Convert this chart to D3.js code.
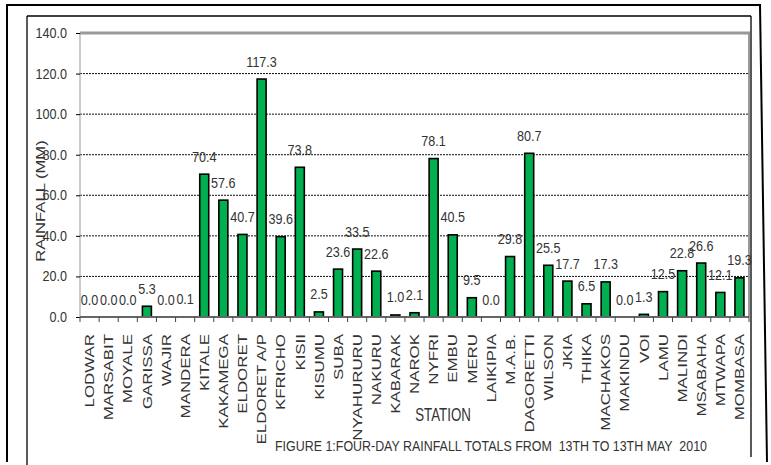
<!DOCTYPE html>
<html>
<head>
<meta charset="utf-8">
<script src="https://cdn.jsdelivr.net/npm/d3@7"></script>
<style>
  html, body { margin: 0; padding: 0; background: #fff; }
  svg { display: block; }
  text { font-family: "Liberation Sans", Arial, sans-serif; fill: #333; }
</style>
</head>
<body>
<svg id="chart" width="771" height="465"></svg>
<script>
const stations = ["LODWAR","MARSABIT","MOYALE","GARISSA","WAJIR","MANDERA","KITALE","KAKAMEGA","ELDORET","ELDORET A/P","KFRICHO","KISII","KISUMU","SUBA","NYAHURURU","NAKURU","KABARAK","NAROK","NYFRI","EMBU","MERU","LAIKIPIA","M.A.B.","DAGORETTI","WILSON","JKIA","THIKA","MACHAKOS","MAKINDU","VOI","LAMU","MALINDI","MSABAHA","MTWAPA","MOMBASA"];
const rainfall = [0.0,0.0,0.0,5.3,0.0,0.1,70.4,57.6,40.7,117.3,39.6,73.8,2.5,23.6,33.5,22.6,1.0,2.1,78.1,40.5,9.5,0.0,29.8,80.7,25.5,17.7,6.5,17.3,0.0,1.3,12.5,22.8,26.6,12.1,19.3];
const yTicks = [0,20,40,60,80,100,120,140];
const yTitle = "RAINFALL (MM)";
const xTitle = "STATION";
const figTitle = "FIGURE 1:FOUR-DAY RAINFALL TOTALS FROM  13TH TO 13TH MAY  2010";

const svg = d3.select("#chart");
const L = 80, R = 749, T = 33, B = 317;

// frames
svg.append("line").attr("x1",7).attr("y1",5).attr("x2",7).attr("y2",462).attr("stroke","#000").attr("stroke-width",2);
svg.append("line").attr("x1",6).attr("y1",5).attr("x2",761).attr("y2",5).attr("stroke","#000").attr("stroke-width",2);
svg.append("line").attr("x1",760).attr("y1",5).attr("x2",767).attr("y2",462).attr("stroke","#000").attr("stroke-width",2);
svg.append("line").attr("x1",27).attr("y1",16).attr("x2",27).attr("y2",465).attr("stroke","#000").attr("stroke-width",1.3);
svg.append("line").attr("x1",27).attr("y1",16).attr("x2",751).attr("y2",16).attr("stroke","#000").attr("stroke-width",1.3);
svg.append("line").attr("x1",751).attr("y1",16).attr("x2",751).attr("y2",457).attr("stroke","#000").attr("stroke-width",1.3);

const x = d3.scaleBand().domain(stations).range([L, R]).padding(0);
const y = d3.scaleLinear().domain([0, 140]).range([B, T]);
const bw = x.bandwidth() * 0.47;

// gridlines
svg.append("g").selectAll("line").data(yTicks.filter(v => v > 0 && v < 140)).join("line")
  .attr("x1", L).attr("x2", R).attr("y1", d => y(d)).attr("y2", d => y(d))
  .attr("stroke", "#111").attr("stroke-width", 1).attr("stroke-dasharray", "2,1");

// plot border: left, top, right
svg.append("line").attr("x1", L).attr("x2", L).attr("y1", T).attr("y2", B).attr("stroke", "#999").attr("stroke-width", 1);
svg.append("line").attr("x1", R).attr("x2", R).attr("y1", T).attr("y2", B).attr("stroke", "#999").attr("stroke-width", 2);
svg.append("line").attr("x1", L).attr("x2", R + 1).attr("y1", y(140)).attr("y2", y(140)).attr("stroke", "#999").attr("stroke-width", 3);

// y axis
const yAxis = svg.append("g").attr("transform", `translate(${L},0)`)
  .call(d3.axisLeft(y).tickValues(yTicks).tickFormat(d3.format(".1f")).tickSize(4).tickPadding(9));
yAxis.select(".domain").remove();
yAxis.selectAll(".tick line").attr("stroke", "#000");
yAxis.selectAll(".tick text").attr("font-size", 14).attr("fill", "#333")
  .attr("transform", "scale(0.9,1)")
  .attr("x", -13 / 0.9);

// bars
svg.append("g").selectAll("rect").data(rainfall).join("rect")
  .attr("x", (d, i) => x(stations[i]) + (x.bandwidth() - bw) / 2)
  .attr("y", d => y(d))
  .attr("width", bw)
  .attr("height", d => B - y(d))
  .attr("fill", "#00B050").attr("stroke", "#000").attr("stroke-width", 1.6);

// x axis line and ticks
svg.append("line").attr("x1", L).attr("x2", R).attr("y1", B).attr("y2", B).attr("stroke", "#666").attr("stroke-width", 2);
const bounds = stations.map(s => x(s)).concat([R]);
svg.append("g").selectAll("line").data(bounds).join("line")
  .attr("x1", d => d).attr("x2", d => d).attr("y1", B).attr("y2", B + 5)
  .attr("stroke", "#444").attr("stroke-width", 1);

// value labels
svg.append("g").selectAll("text").data(rainfall).join("text")
  .attr("transform", (d, i) => `translate(${x(stations[i]) + x.bandwidth() / 2},${y(d) - 12.5}) scale(0.9,1)`)
  .attr("text-anchor", "middle").attr("font-size", 14).attr("fill", "#333")
  .text(d => d3.format(".1f")(d));

// x labels
svg.append("g").selectAll("text").data(stations).join("text")
  .attr("transform", s => `translate(${x(s) + x.bandwidth() / 2 + 4.7},334) rotate(-90) scale(1.3,1)`)
  .attr("text-anchor", "end").attr("font-size", 13).attr("fill", "#333")
  .text(s => s);

// y title
svg.append("text")
  .attr("transform", "translate(44.5,201) rotate(-90) scale(1.28,1)")
  .attr("text-anchor", "middle").attr("font-size", 13).attr("fill", "#333")
  .text(yTitle);

// x title
svg.append("text")
  .attr("transform", "translate(443,421) scale(0.74,1)")
  .attr("text-anchor", "middle").attr("font-size", 18).attr("fill", "#333")
  .text(xTitle);

// figure title
svg.append("text")
  .attr("x", 275).attr("y", 451)
  .attr("font-size", 14).attr("fill", "#333")
  .attr("textLength", 432).attr("lengthAdjust", "spacingAndGlyphs")
  .style("white-space", "pre")
  .text(figTitle);
</script>
</body>
</html>
